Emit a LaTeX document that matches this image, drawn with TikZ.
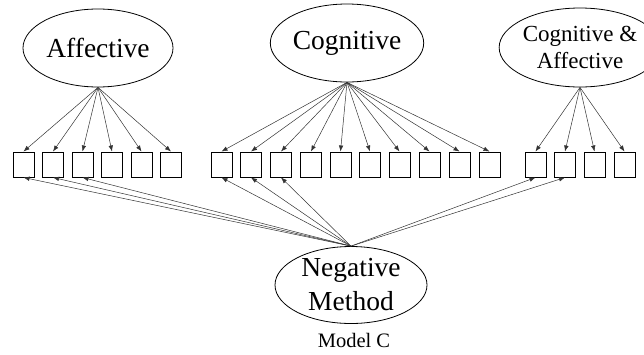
\documentclass[tikz,border=0pt]{standalone}
\usepackage{fontspec}
\setmainfont{Liberation Serif}
\usetikzlibrary{shapes.geometric,arrows.meta}
\begin{document}
\begin{tikzpicture}[x=1pt,y=-1pt,
  latent/.style={ellipse,draw,line width=0.8pt,inner sep=0pt,align=center},
  item/.style={rectangle,draw,line width=1pt,minimum width=21pt,minimum height=25pt,inner sep=0pt},
  load/.style={draw=black!80,line width=0.5pt,-{Latex[length=6pt,width=4.5pt]}},
  bigtext/.style={font=\fontsize{27.5}{34}\selectfont},
  midtext/.style={font=\fontsize{23}{27}\selectfont}]
\useasboundingbox (0,0) rectangle (644,354);
% latent variables
\node[latent,bigtext,minimum width=150pt,minimum height=78pt] (aff) at (98,48) {Affective};
\node[latent,bigtext,minimum width=150pt,minimum height=78pt] (cog) at (347,43) {Cognitive};
\node[latent,midtext,minimum width=150pt,minimum height=79pt] (ca) at (580,47.5) {Cognitive \&\\Affective};
\node[latent,bigtext,minimum width=152pt,minimum height=77pt] (neg) at (351,285) {Negative\\Method};
\node[font=\fontsize{20.5}{24}\selectfont] (lab) at (354,340) {Model C};
% indicators
\foreach \i/\x in {1/23.5,2/53,3/82.5,4/112,5/141.5,6/171}
  \node[item] (a\i) at (\x,164.5) {};
\foreach \i/\x in {1/221.5,2/251,3/281,4/311,5/340.5,6/370,7/399.5,8/429.5,9/459.5,10/489.5}
  \node[item] (c\i) at (\x,164.5) {};
\foreach \i/\x in {1/535.5,2/565,3/594.5,4/624.5}
  \node[item] (k\i) at (\x,164.5) {};
% loadings
\foreach \i in {1,...,6} \draw[load] (aff.south) -- (a\i.north);
\foreach \i in {1,...,10} \draw[load] (cog.south) -- (c\i.north);
\foreach \i in {1,...,4} \draw[load] (ca.south) -- (k\i.north);
\foreach \n in {a1,a2,a3,c1,c2,c3,k1,k2} \draw[load] (neg.north) -- (\n.south);
\end{tikzpicture}
\end{document}
